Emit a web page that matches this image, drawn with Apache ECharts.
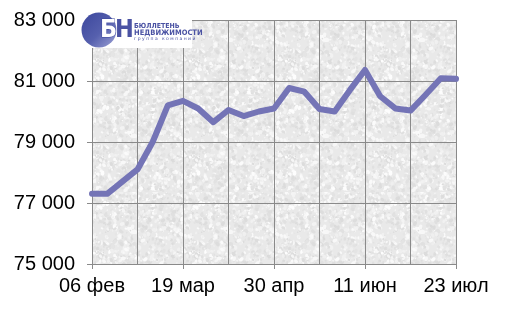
<!DOCTYPE html>
<html><head><meta charset="utf-8">
<script src="https://cdn.jsdelivr.net/npm/echarts@6/dist/echarts.min.js"></script>
<style>html,body{margin:0;padding:0;background:#fff}#c{width:512px;height:312px}</style>
</head><body><div id="c"></div>
<script>
const categories = ["06 фев","12 фев","19 фев","26 фев","05 мар","12 мар","19 мар","26 мар","02 апр","09 апр","16 апр","23 апр","30 апр","07 май","14 май","21 май","28 май","04 июн","11 июн","18 июн","25 июн","02 июл","09 июл","16 июл","23 июл"];
const prices = [77300,77300,77700,78100,79000,80200,80350,80100,79650,80050,79850,80000,80100,80770,80650,80080,80000,80700,81360,80500,80100,80030,80550,81090,81070];
const yTicks = [75000,77000,79000,81000,83000];

// deterministic paper-like texture for plot background
function makeTexture(){
  const s=96, cv=document.createElement('canvas'); cv.width=s; cv.height=s;
  const ctx=cv.getContext('2d');
  ctx.fillStyle='#e9e9e9'; ctx.fillRect(0,0,s,s);
  let h=12345;
  function rnd(){ h=(h*1103515245+12345)&0x7fffffff; return h/0x7fffffff; }
  for(let i=0;i<1100;i++){
    const x=rnd()*s,y=rnd()*s,r=0.5+rnd()*1.4,v=rnd();
    const c = v<0.5 ? Math.round(238+v*30) : Math.round(208+v*22);
    ctx.fillStyle='rgb('+c+','+c+','+c+')';
    ctx.beginPath(); ctx.ellipse(x,y,r*1.4,r,rnd()*3,0,Math.PI*2); ctx.fill();
  }
  return cv;
}

const chart = echarts.init(document.getElementById('c'), null, {renderer:'canvas'});
const fmt = v => String(v).replace(/\B(?=(\d{3})+(?!\d))/g,' ');
const logoFont = '"DejaVu Sans Condensed", "Liberation Sans Narrow", "Liberation Sans"';
chart.setOption({
  animation:false,
  grid:{left:92,right:56,top:20,bottom:48,show:true,borderWidth:0,
    backgroundColor:{image:makeTexture(),repeat:'repeat'}},
  xAxis:{type:'category',data:categories,boundaryGap:false,
    axisLine:{lineStyle:{color:'#8a8a8a',width:1}},
    axisTick:{show:true,interval:5,length:5,lineStyle:{color:'#8a8a8a'}},
    axisLabel:{interval:5,color:'#000',fontSize:20,fontFamily:'Liberation Sans, Arial',margin:12},
    splitLine:{show:true,interval:2,lineStyle:{color:'#8a8a8a',width:1}}},
  yAxis:{type:'value',min:yTicks[0],max:yTicks[yTicks.length-1],interval:2000,
    axisLine:{show:true,lineStyle:{color:'#8a8a8a',width:1}},
    axisTick:{show:true,length:5,lineStyle:{color:'#8a8a8a'}},
    axisLabel:{color:'#000',fontSize:20,fontFamily:'Liberation Sans, Arial',margin:17,formatter:fmt},
    splitLine:{show:true,lineStyle:{color:'#8a8a8a',width:1}}},
  series:[{type:'line',data:prices,showSymbol:false,symbol:'none',
    lineStyle:{color:'#7474b6',width:6,join:'round',cap:'round'}}],
  graphic:[
    {type:'rect',shape:{x:92,y:12,width:100,height:36},style:{fill:'#fff'},z:100},
    {type:'circle',shape:{cx:99,cy:30,r:17.5},style:{fill:new echarts.graphic.LinearGradient(0,0,1,1,[{offset:0,color:'#3b469c'},{offset:0.55,color:'#5660ae'},{offset:1,color:'#9ea3d6'}])},z:101},
    {type:'text',x:100,y:18,style:{text:'Б',fill:'#fff',stroke:'#3b469c',lineWidth:0.8,font:'bold 25px '+logoFont},z:102},
    {type:'text',x:115,y:18,style:{text:'Н',fill:'#4a52a3',stroke:'#fff',lineWidth:0.8,font:'bold 25px '+logoFont},z:102},
    {type:'text',x:134,y:23,style:{text:'БЮЛЛЕТЕНЬ',fill:'#4a52a3',font:'bold 7px '+logoFont},z:102},
    {type:'text',x:134,y:29,style:{text:'НЕДВИЖИМОСТИ',fill:'#4a52a3',font:'bold 7.5px '+logoFont},z:102},
    {type:'text',x:134,y:36,style:{text:'г р у п п а   к о м п а н и й',fill:'#4a52a3',font:'4.5px "DejaVu Sans", "Liberation Sans"'},z:102}
  ]
});
</script></body></html>
